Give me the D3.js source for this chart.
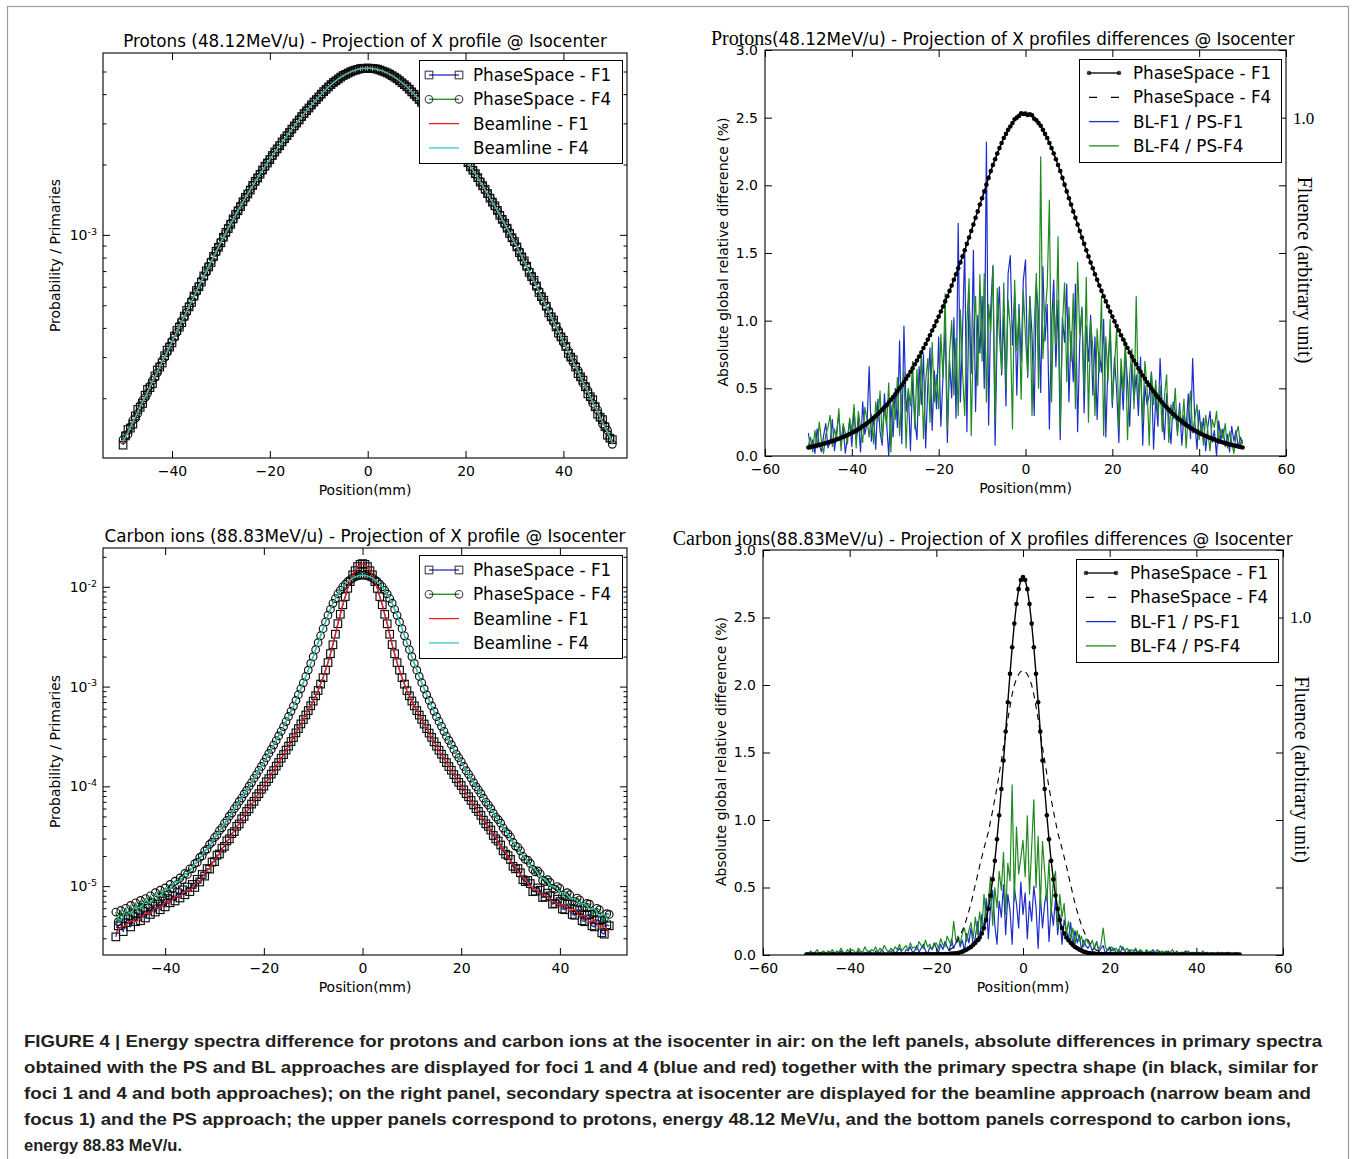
<!DOCTYPE html>
<html><head><meta charset="utf-8">
<script src="https://cdn.jsdelivr.net/npm/d3@7/dist/d3.min.js"></script>
<style>html,body{margin:0;padding:0;background:#fff;} svg{display:block;}</style>
</head><body>
<svg id="fig" width="1356" height="1159"></svg>
<script>
// ======================= DATA =======================
// bin centres (mm)
const positionsMm = [
-50,-49,-48,-47,-46,-45,-44,-43,-42,-41,-40,-39,-38,-37,-36,-35,-34,-33,-32,-31,
-30,-29,-28,-27,-26,-25,-24,-23,-22,-21,-20,-19,-18,-17,-16,-15,-14,-13,-12,-11,
-10,-9,-8,-7,-6,-5,-4,-3,-2,-1,0,1,2,3,4,5,6,7,8,9,10,
11,12,13,14,15,16,17,18,19,20,21,22,23,24,25,26,27,28,29,30,
31,32,33,34,35,36,37,38,39,40,41,42,43,44,45,46,47,48,49,50];
const positionsHalfMm = [
-50,-49.5,-49,-48.5,-48,-47.5,-47,-46.5,-46,-45.5,-45,-44.5,-44,-43.5,-43,-42.5,-42,-41.5,-41,-40.5,
-40,-39.5,-39,-38.5,-38,-37.5,-37,-36.5,-36,-35.5,-35,-34.5,-34,-33.5,-33,-32.5,-32,-31.5,-31,-30.5,
-30,-29.5,-29,-28.5,-28,-27.5,-27,-26.5,-26,-25.5,-25,-24.5,-24,-23.5,-23,-22.5,-22,-21.5,-21,-20.5,
-20,-19.5,-19,-18.5,-18,-17.5,-17,-16.5,-16,-15.5,-15,-14.5,-14,-13.5,-13,-12.5,-12,-11.5,-11,-10.5,
-10,-9.5,-9,-8.5,-8,-7.5,-7,-6.5,-6,-5.5,-5,-4.5,-4,-3.5,-3,-2.5,-2,-1.5,-1,-0.5,
0,
0.5,1,1.5,2,2.5,3,3.5,4,4.5,5,5.5,6,6.5,7,7.5,8,8.5,9,9.5,10,
10.5,11,11.5,12,12.5,13,13.5,14,14.5,15,15.5,16,16.5,17,17.5,18,18.5,19,19.5,20,
20.5,21,21.5,22,22.5,23,23.5,24,24.5,25,25.5,26,26.5,27,27.5,28,28.5,29,29.5,30,
30.5,31,31.5,32,32.5,33,33.5,34,34.5,35,35.5,36,36.5,37,37.5,38,38.5,39,39.5,40,
40.5,41,41.5,42,42.5,43,43.5,44,44.5,45,45.5,46,46.5,47,47.5,48,48.5,49,49.5,50];

// Protons 48.12 MeV/u, Probability / Primaries, in units of 1e-6
const PROTON_PROB_UNIT = 1e-6;
// PhaseSpace series: 0.5 mm bins (positionsHalfMm)
const protonPhaseSpaceF1 = [
126,138,147,149,155,168,179,183,190,206, 218,222,231,249,264,272,283,304,321,331,
345,369,390,403,421,449,475,492,514,547, 578,600,628,667,702,729,762,809,851,885,
925,977,1025,1064,1110,1170,1224,1268,1320,1386, 1447,1497,1555,1628,1695,1752,1816,1894,1967,2030,
2100,2185,2263,2332,2408,2498,2580,2656,2739,2836, 2926,3010,3102,3208,3306,3396,3490,3598,3700,3792,
3890,3999,4102,4196,4296,4396,4488,4564,4646,4731, 4808,4862,4922,4983,5034,5070,5108,5140,5162,5160,
5166,
5163,5155,5138,5114,5072,5024,4979,4930,4868,4798, 4729,4655,4570,4477,4390,4305,4200,4092,3994,3900,
3797,3688,3591,3500,3399,3294,3201,3114,3011,2914, 2830,2750,2660,2566,2490,2419,2337,2251,2178,2112,
2036,1955,1889,1828,1757,1683,1623,1567,1502,1435, 1380,1332,1273,1212,1165,1122,1068,1014,972,936,
888,840,805,774,734,691,663,639,604,567, 544,525,495,464,446,432,404,380,366,354,
333,311,300,292,272,255,247,239,224,209, 203,197,184,171,166,162,151,139,135,133];
const protonPhaseSpaceF4 = [
133,139,140,151,161,164,172,186,196,201, 210,226,238,245,257,275,290,299,313,334,
352,365,383,408,429,445,466,496,523,544, 570,604,636,662,693,734,771,804,842,889,
934,973,1016,1070,1120,1164,1213,1273,1330,1381, 1437,1503,1566,1623,1684,1757,1826,1889,1957,2036,
2110,2178,2252,2336,2417,2490,2568,2661,2749,2830, 2915,3014,3112,3201,3296,3399,3499,3593,3690,3796,
3899,3994,4093,4201,4304,4390,4479,4570,4654,4730, 4800,4868,4930,4980,5025,5072,5115,5140,5155,5168,
5172,
5168,5161,5138,5108,5072,5032,4979,4922,4866,4806, 4728,4646,4568,4486,4393,4296,4200,4101,3995,3891,
3796,3698,3593,3491,3400,3305,3203,3104,3015,2924, 2830,2741,2660,2577,2492,2409,2336,2262,2180,2102,
2035,1966,1890,1818,1757,1693,1624,1557,1503,1445, 1381,1322,1273,1222,1165,1112,1069,1024,973,926,
889,850,805,764,733,700,664,630,604,576, 545,516,495,473,446,423,407,389,366,346,
333,319,300,284,275,263,246,232,225,216, 202,190,185,178,165,155,152,146,135,127];
// Beamline series: 1 mm bins (positionsMm)
const protonBeamlineF1 = [
128,145,156,177,192,215,233,262,285,318, 347,388,424,472,517,575,631,699,766,848,
928,1022,1114,1220,1324,1443,1559,1691,1820,1963, 2104,2259,2411,2575,2743,2922,3106,3302,3493,3696,
3893,4099,4298,4484,4648,4805,4924,5031,5109,5160, 5168,
5156,5113,5027,4928,4801,4652,4480,4302,4095,3897, 3692,3497,3298,3110,2918,2747,2571,2415,2255,2108,
1959,1824,1687,1563,1439,1328,1216,1118,1018,932, 844,770,695,635,571,521,468,428,384,351,
314,289,258,237,211,195,173,160,141,131];
const protonBeamlineF4 = [
131,142,159,174,194,212,236,259,288,315, 350,385,427,469,520,572,634,696,769,845,
931,1019,1117,1217,1327,1440,1562,1688,1823,1960, 2107,2256,2414,2572,2746,2919,3109,3299,3496,3693,
3896,4096,4301,4481,4651,4802,4927,5028,5112,5157, 5171,
5157,5110,5030,4925,4804,4649,4483,4299,4098,3894, 3695,3494,3301,3107,2921,2744,2574,2412,2258,2105,
1962,1821,1690,1560,1442,1325,1219,1115,1021,929, 847,767,698,632,574,518,471,425,387,348,
317,286,261,234,214,192,176,157,144,129];

// Carbon ions 88.83 MeV/u, Probability / Primaries, in units of 1e-7
const CARBON_PROB_UNIT = 1e-7;
// PhaseSpace series: 0.5 mm bins (positionsHalfMm)
const carbonPhaseSpaceF1 = [
31,40,42,35,43,47,39,50,44,53, 45,56,48,60,52,63,55,66,58,71,
62,75,68,80,71,86,76,92,82,98, 88,104,97,117,110,131,126,150,148,174,
176,204,210,240,250,284,298,336,352,398, 420,472,500,560,596,664,708,788,845,935,
1005,1110,1196,1325,1440,1595,1735,1915,2085,2310, 2530,2810,3080,3435,3790,4225,4670,5195,5740,6425,
7150,8090,9130,10600,12290,14640,17400,21400,26280,33520, 42700,53100,66050,79900,96650,112800,131800,145100,159700,168100,
171000,
168000,159500,144900,131900,112700,96500,79850,66100,53050,42600, 33480,26350,21360,17360,14610,12320,10580,9100,8075,7170,
6410,5740,5180,4690,4210,3790,3420,3100,2795,2530, 2300,2100,1900,1730,1580,1450,1312,1195,1098,1020,
922,845,786,722,652,598,560,512,458,421, 397,365,322,298,283,258,226,209,202,185,
158,149,150,136,116,111,114,106,88,89, 96,91,77,78,85,80,66,67,74,70,
59,58,66,66,52,51,58,57,45,44, 51,52,40,39,46,45,34,33,41,40];
const carbonPhaseSpaceF4 = [
55,44,57,47,60,50,64,53,68,57, 72,60,75,65,80,69,86,74,91,79,
96,86,104,95,112,104,121,116,134,131, 149,150,168,173,194,201,225,235,262,276,
307,325,361,384,426,455,503,540,596,641, 707,763,841,911,1004,1091,1205,1312,1450,1585,
1745,1925,2135,2347,2595,2880,3205,3565,3975,4460, 5015,5650,6375,7262,8285,9500,10905,12625,14625,17075,
19950,23440,27540,32350,38000,44410,51900,59580,68400,76300, 85100,92250,100000,106200,112700,117500,122500,125600,128800,130400,
130900,
130350,128700,125550,122600,117450,112600,106250,100100,92200,85000, 76350,68500,59520,51800,44450,38100,32300,27500,23460,19980,
17060,14600,12640,10930,9490,8260,7275,6400,5645,4990, 4470,4000,3560,3180,2890,2620,2345,2110,1936,1765,
1584,1435,1322,1210,1090,992,920,845,762,696, 650,598,538,493,464,428,382,351,334,309,
274,252,245,226,199,185,182,169,147,139, 142,133,114,111,116,109,95,93,99,95,
80,80,86,82,70,70,76,73,61,62, 67,66,53,54,60,58,46,46,53,52];
// Beamline series: 1 mm bins (positionsMm)
const carbonBeamlineF1 = [
34,39,40,45,44,47,54,53,61,60, 70,68,79,78,90,89,105,112,136,150,
183,210,258,298,362,423,510,600,719,848, 1015,1198,1448,1736,2094,2536,3094,3796,4684,5746,
7160,9120,12300,17380,26300,42660,66070,96600,131800,159600, 170800,
159400,131700,96700,66000,42700,26250,17400,12280,9140,7150, 5760,4670,3810,3080,2550,2080,1750,1440,1210,1005,
856,710,608,502,432,354,306,250,218,176, 156,129,118,99,95,84,83,73,69,64,
65,56,58,50,51,43,46,39,40,34];
const carbonBeamlineF4 = [
50,45,57,53,63,60,72,68,81,80, 93,94,110,112,132,140,168,186,225,254,
307,352,428,494,598,698,842,995,1205,1440, 1755,2122,2605,3195,3985,5005,6385,8275,10915,14615,
19940,27550,37990,51910,68390,85110,99990,112710,122490,128810, 130800,
128900,122400,112800,99900,85200,68300,52000,37900,27600,19920, 14640,10890,8300,6360,5030,3960,3220,2580,2145,1735,
1455,1190,1008,830,710,586,505,416,363,298, 262,216,194,160,148,124,118,101,99,86,
86,76,75,66,67,59,59,50,52,44];

// Right panels (0.5 mm bins): fluence (arbitrary unit) in units of 1e-3, differences (%) in units of 1e-2
const FLUENCE_UNIT = 1e-3;
const DIFF_UNIT = 1e-2;
const protonFluencePSF1 = [
25,27,28,30,31,33,34,36,38,40, 42,44,46,49,51,54,56,59,62,65,
68,72,75,79,83,88,92,97,102,107, 112,118,124,131,137,144,150,158,166,174,
182,191,200,209,218,228,238,249,259,271, 282,294,306,319,331,344,357,371,384,398,
412,427,442,457,472,488,504,521,537,555, 572,590,608,627,646,665,684,704,723,743,
762,782,802,822,842,860,877,894,910,925, 940,952,964,974,984,995,1000,1005,1013,1011,
1012,
1008,1010,1007,997,992,984,976,964,952,940, 925,910,894,877,860,842,822,802,782,762,
743,723,704,684,665,646,627,608,590,572, 555,537,521,504,488,472,457,442,427,412,
398,384,371,357,344,331,319,306,294,282, 271,259,249,238,228,218,209,200,191,182,
174,166,158,150,144,137,131,124,118,112, 107,102,97,92,88,83,79,75,72,68,
65,62,59,56,54,51,49,46,44,42, 40,38,36,34,33,31,30,28,27,25];
const protonFluencePSF4 = protonFluencePSF1; // PS-F4 profile coincides with PS-F1 at this scale
const protonDiffF1 = [
17,5,12,2,20,8,3,15,24,6, 10,27,4,18,31,9,22,2,14,26,
7,35,12,28,3,40,16,24,66,11, 30,5,42,18,8,46,25,0,38,14,
50,21,85,9,96,33,48,4,57,27, 12,66,38,75,6,52,80,19,63,35,
88,22,59,95,10,71,43,102,28,172, 40,92,153,18,120,61,152,33,104,76,
118,50,232,23,110,140,8,96,125,60, 104,37,135,148,82,120,45,112,70,130,
145,
58,118,90,30,126,105,47,140,85,112, 20,98,130,66,115,12,102,84,127,40,
92,55,127,18,85,110,32,96,70,104, 45,88,27,76,62,101,14,70,92,36,
73,48,10,65,34,78,55,22,68,41, 60,30,73,8,52,38,45,62,5,44,
22,72,35,12,46,28,9,40,33,18, 39,8,30,21,46,13,72,25,5,34,
15,28,4,22,33,10,19,0,26,12, 20,7,16,3,22,11,19,6,14,9];
const protonDiffF4 = [
8,14,3,19,6,25,11,2,16,21, 30,7,20,13,35,4,24,17,9,28,
18,38,6,33,21,10,36,27,14,31, 9,40,26,48,12,35,22,54,3,43,
27,58,15,44,62,6,50,37,70,20, 64,30,78,13,55,72,25,84,40,60,
35,90,58,120,20,76,100,45,87,30, 108,62,30,98,131,15,90,118,52,134,
70,135,40,112,92,141,25,124,88,63, 128,50,115,95,20,130,78,108,42,122,
88,
60,118,30,95,135,50,221,72,104,125, 189,40,115,82,162,20,97,128,55,110,
70,120,35,143,90,108,48,132,25,100, 80,30,94,62,118,15,88,55,101,40,
66,95,20,72,48,86,12,60,79,35, 118,42,65,25,70,50,8,62,38,56,
30,52,18,44,60,10,38,27,50,15, 35,22,42,6,31,48,17,28,38,12,
25,8,30,18,4,27,21,33,9,20, 13,24,6,18,10,2,16,22,8,12];

const carbonFluencePSF1 = [
1,1,1,1,1,1,1,1,1,1, 1,1,1,1,1,1,1,1,1,1,
1,1,1,1,1,1,1,1,1,1, 1,1,1,1,1,1,1,1,1,1,
2,2,2,2,2,2,2,2,2,2, 2,2,2,2,2,2,2,2,2,2,
2,2,2,2,3,3,3,4,4,5, 6,8,10,13,16,20,24,30,36,44,
52,64,80,104,137,176,224,279,343,414, 492,576,662,749,833,912,982,1040,1084,1111,
1120,
1111,1084,1040,982,912,833,749,662,576,492, 414,343,279,224,176,137,104,80,64,52,
44,36,30,24,20,16,13,10,8,6, 5,4,4,3,3,3,2,2,2,2,
2,2,2,2,2,2,2,2,2,2, 2,2,2,2,2,2,2,2,2,2,
1,1,1,1,1,1,1,1,1,1, 1,1,1,1,1,1,1,1,1,1,
1,1,1,1,1,1,1,1,1,1, 1,1,1,1,1,1,1,1,1,1];
const carbonFluencePSF4 = [
1,1,1,1,1,1,1,1,1,1, 1,1,1,1,1,1,1,1,1,1,
1,1,1,1,1,1,1,1,1,1, 1,1,1,1,1,1,1,1,1,1,
2,2,2,2,2,2,2,2,2,2, 2,2,2,2,2,2,2,2,2,2,
3,4,5,6,8,11,14,19,24,34, 44,58,72,88,108,130,152,180,208,236,
264,290,316,340,364,396,428,462,496,536, 576,616,656,698,736,772,800,818,832,840,
844,
840,832,818,800,772,736,698,656,616,576, 536,496,462,428,396,364,340,316,290,264,
236,208,180,152,130,108,88,72,58,44, 34,24,19,14,11,8,6,5,4,3,
2,2,2,2,2,2,2,2,2,2, 2,2,2,2,2,2,2,2,2,2,
1,1,1,1,1,1,1,1,1,1, 1,1,1,1,1,1,1,1,1,1,
1,1,1,1,1,1,1,1,1,1, 1,1,1,1,1,1,1,1,1,1];
const carbonDiffF1 = [
0,1,0,2,1,0,1,2,0,1, 1,0,2,1,0,1,3,1,0,2,
1,2,0,1,3,1,0,2,1,3, 2,0,3,1,2,4,1,0,3,2,
4,1,3,5,2,0,4,3,6,2, 3,7,2,5,8,3,1,6,4,9,
5,2,8,4,10,6,3,12,5,9, 14,6,11,3,16,9,20,7,13,25,
10,30,18,42,12,35,48,22,8,40, 28,52,15,45,33,8,50,38,20,54,
30,
46,12,40,25,51,36,5,44,20,38, 48,10,35,22,42,15,30,8,26,18,
12,24,6,18,9,15,4,11,7,5, 8,3,6,10,2,5,7,1,4,6,
3,5,1,4,2,6,3,1,4,2, 2,4,1,3,2,0,3,1,2,4,
1,2,3,0,2,1,3,1,0,2, 1,0,2,1,3,1,0,2,1,0,
2,1,0,1,2,0,1,1,0,2, 1,0,1,2,0,1,0,1,1,0];
const carbonDiffF4 = [
2,1,3,1,2,4,1,2,3,1, 3,2,4,1,3,2,5,2,1,4,
2,4,3,1,5,3,2,6,3,2, 4,3,6,2,5,3,7,4,2,5,
3,6,4,8,3,5,7,4,9,5, 6,4,10,7,5,11,6,8,4,7,
9,5,12,8,6,14,10,7,25,11, 13,8,16,20,10,18,24,12,28,15,
32,18,45,25,40,58,22,50,35,62, 48,76,30,68,55,126,40,95,60,72,
85,
58,103,45,80,115,50,88,35,84,62, 40,70,30,55,62,20,45,28,38,15,
25,12,20,8,18,10,14,6,12,9, 7,11,5,9,4,8,20,6,3,5,
6,3,5,2,7,4,3,5,2,4, 3,5,2,4,3,1,4,2,3,2,
2,4,1,3,2,3,1,2,4,1, 3,1,2,2,1,3,2,0,2,1,
2,1,3,1,2,0,2,1,1,2, 1,2,0,1,2,1,0,2,1,1];

const xTicksLeftPanels = [-40,-20,0,20,40];
const xTicksRightPanels = [-60,-40,-20,0,20,40,60];
const yTicksDiff = [0,0.5,1,1.5,2,2.5,3];
const yTicksFluence = [0,0.2,0.4,0.6,0.8,1.0,1.2];
const legendLeftLabels = ["PhaseSpace - F1","PhaseSpace - F4","Beamline - F1","Beamline - F4"];
const legendRightLabels = ["PhaseSpace - F1","PhaseSpace - F4","BL-F1 / PS-F1","BL-F4 / PS-F4"];
const captionLines = [
"FIGURE 4 | Energy spectra difference for protons and carbon ions at the isocenter in air: on the left panels, absolute differences in primary spectra",
"obtained with the PS and BL approaches are displayed for foci 1 and 4 (blue and red) together with the primary spectra shape (in black, similar for",
"foci 1 and 4 and both approaches); on the right panel, secondary spectra at isocenter are displayed for the beamline approach (narrow beam and",
"focus 1) and the PS approach; the upper panels correspond to protons, energy 48.12 MeV/u, and the bottom panels correspond to carbon ions,",
"energy 88.83 MeV/u."];

// ======================= DRAWING =======================
const svg = d3.select("#fig");
const FONT = "'DejaVu Sans','Bitstream Vera Sans',Verdana,sans-serif";
const SERIF = "'Liberation Serif','Times New Roman','DejaVu Serif',serif";
const COL = {blue:"#1d2ccc", green:"#1f8a1f", red:"#e8231c", cyan:"#33c6bf", black:"#000"};

svg.append("rect").attr("width",1356).attr("height",1159).attr("fill","#fff");
svg.append("rect").attr("x",7.5).attr("y",6.5).attr("width",1341).attr("height",1220)
  .attr("fill","none").attr("stroke","#9c9c9c").attr("stroke-width",1.2);

const fmtMinus = v => (v < 0 ? "\u2212" : "") + Math.abs(v);

function mkAxis(g, gen, scale, vals, size, fmt, pad, tx, ty) {
  const a = gen(scale).tickValues(vals).tickSizeInner(-size).tickSizeOuter(0)
    .tickPadding(pad).tickFormat(fmt || (() => ""));
  const gg = g.append("g").attr("transform", `translate(${tx},${ty})`).call(a);
  gg.select(".domain").remove();
  gg.selectAll(".tick line").attr("stroke", "#000").attr("stroke-width", 1);
  gg.selectAll(".tick text").attr("font-family", FONT).attr("font-size", 14).attr("fill", "#000");
  return gg;
}

function drawMarkers(sel, pts, type) {
  const ms = sel.append("g").attr("fill", "none").attr("stroke", "#0d0d0d").attr("stroke-width", 1.15);
  if (type === "square") {
    ms.selectAll("rect").data(pts).join("rect")
      .attr("x", d => d[0] - 3.8).attr("y", d => d[1] - 3.8).attr("width", 7.6).attr("height", 7.6);
  } else if (type === "circle") {
    ms.selectAll("circle").data(pts).join("circle")
      .attr("cx", d => d[0]).attr("cy", d => d[1]).attr("r", 3.8);
  } else if (type === "dot") {
    ms.attr("stroke", "none").attr("fill", "#000");
    ms.selectAll("circle").data(pts).join("circle")
      .attr("cx", d => d[0]).attr("cy", d => d[1]).attr("r", 2.3);
  }
}

function legend(o) {
  const g = svg.append("g");
  g.append("rect").attr("x", o.x + 0.5).attr("y", o.y + 0.5).attr("width", o.w).attr("height", o.h)
    .attr("fill", "#fff").attr("stroke", "#000").attr("stroke-width", 1);
  o.rows.forEach((r, i) => {
    const cy = o.y + o.first + i * o.dy;
    const x0 = o.x + 10, x1 = o.x + 40;
    g.append("line").attr("x1", x0).attr("x2", x1).attr("y1", cy).attr("y2", cy)
      .attr("stroke", r.color).attr("stroke-width", 1.3).attr("stroke-dasharray", r.dash || null);
    if (r.marker) {
      const hm = g.append("g").attr("opacity", 0.75);
      drawMarkers(hm, [[x0, cy], [x1, cy]], r.marker);
    }
    g.append("text").attr("x", o.x + 54).attr("y", cy).attr("dy", "0.36em")
      .attr("font-family", FONT).attr("font-size", 16.8).attr("fill", "#000").text(r.label);
  });
}

function frame(g, o) {
  g.append("rect").attr("x", o.L).attr("y", o.T).attr("width", o.R - o.L).attr("height", o.B - o.T)
    .attr("fill", "none").attr("stroke", "#000").attr("stroke-width", 1.1);
}

function addClip(o) {
  const id = "clip-" + o.id;
  svg.append("clipPath").attr("id", id).append("rect")
    .attr("x", o.L).attr("y", o.T).attr("width", o.R - o.L).attr("height", o.B - o.T);
  return `url(#${id})`;
}

function logPanel(o) {
  const g = svg.append("g");
  const x = d3.scaleLinear().domain(o.xDom).range([o.L, o.R]);
  const y = d3.scaleLog().domain(o.yDom).range([o.B, o.T]);
  const plot = g.append("g").attr("clip-path", addClip(o));
  o.series.forEach(s => {
    const pts = s.values.map((v, i) => [x(s.xs[i]), y(v * o.unit)]);
    plot.append("path").attr("d", d3.line()(pts)).attr("fill", "none")
      .attr("stroke", s.color).attr("stroke-width", 1.3).attr("stroke-linejoin", "round");
    if (s.marker) drawMarkers(plot, pts, s.marker);
  });
  frame(g, o);
  const [lo, hi] = o.yDom;
  const minors = [];
  for (let e = Math.floor(Math.log10(lo)); e <= Math.ceil(Math.log10(hi)); e++)
    for (let m = 2; m <= 9; m++) { const v = m * Math.pow(10, e); if (v > lo && v < hi) minors.push(v); }
  mkAxis(g, d3.axisBottom, x, xTicksLeftPanels, 7, fmtMinus, 8, 0, o.B);
  mkAxis(g, d3.axisTop, x, xTicksLeftPanels, 7, null, 8, 0, o.T);
  const la = mkAxis(g, d3.axisLeft, y, o.yMajors, 7, null, 6, o.L, 0);
  la.selectAll(".tick text").each(function (d) {
    const t = d3.select(this);
    const e = Math.round(Math.log10(d));
    t.append("tspan").text("10");
    t.append("tspan").attr("dy", "-0.55em").attr("font-size", 9.5).text("-" + Math.abs(e));
  });
  mkAxis(g, d3.axisLeft, y, minors, 3.5, null, 6, o.L, 0);
  mkAxis(g, d3.axisRight, y, o.yMajors, 7, null, 6, o.R, 0);
  mkAxis(g, d3.axisRight, y, minors, 3.5, null, 6, o.R, 0);
  g.append("text").attr("x", (o.L + o.R) / 2).attr("y", o.T - 6).attr("text-anchor", "middle")
    .attr("font-family", FONT).attr("font-size", 16.8).text(o.title);
  g.append("text").attr("x", (o.L + o.R) / 2).attr("y", o.B + 37).attr("text-anchor", "middle")
    .attr("font-family", FONT).attr("font-size", 14).text("Position(mm)");
  g.append("text").attr("transform", `translate(${o.L - 43},${(o.T + o.B) / 2}) rotate(-90)`)
    .attr("text-anchor", "middle").attr("font-family", FONT).attr("font-size", 14).text("Probability / Primaries");
  legend({x: o.L + 316, y: o.T + 7, w: 203, h: 103, first: 15, dy: 24.3, rows: [
    {label: legendLeftLabels[0], color: COL.blue, marker: "square"},
    {label: legendLeftLabels[1], color: COL.green, marker: "circle"},
    {label: legendLeftLabels[2], color: COL.red},
    {label: legendLeftLabels[3], color: COL.cyan}]});
}

function diffPanel(o) {
  const g = svg.append("g");
  const x = d3.scaleLinear().domain([-60, 60]).range([o.L, o.R]);
  const yL = d3.scaleLinear().domain([0, 3]).range([o.B, o.T]);
  const yR = d3.scaleLinear().domain([0, 1.2]).range([o.B, o.T]);
  const plot = g.append("g").attr("clip-path", addClip(o));
  const pts = (vals, sc, unit) => vals.map((v, i) => [x(positionsHalfMm[i]), sc(v * unit)]);
  plot.append("path").attr("d", d3.line()(pts(o.diffF1, yL, DIFF_UNIT))).attr("fill", "none")
    .attr("stroke", COL.blue).attr("stroke-width", 1.2).attr("stroke-linejoin", "round");
  plot.append("path").attr("d", d3.line()(pts(o.diffF4, yL, DIFF_UNIT))).attr("fill", "none")
    .attr("stroke", COL.green).attr("stroke-width", 1.2).attr("stroke-linejoin", "round");
  const f1 = pts(o.fluF1, yR, FLUENCE_UNIT);
  plot.append("path").attr("d", d3.line()(f1)).attr("fill", "none").attr("stroke", "#000").attr("stroke-width", 1.4);
  drawMarkers(plot, f1, "dot");
  plot.append("path").attr("d", d3.line()(pts(o.fluF4, yR, FLUENCE_UNIT))).attr("fill", "none")
    .attr("stroke", "#000").attr("stroke-width", 1.1).attr("stroke-dasharray", "6,5");
  frame(g, o);
  mkAxis(g, d3.axisBottom, x, xTicksRightPanels, 7, fmtMinus, 8, 0, o.B);
  mkAxis(g, d3.axisTop, x, xTicksRightPanels, 7, null, 8, 0, o.T);
  mkAxis(g, d3.axisLeft, yL, yTicksDiff, 7, d3.format(".1f"), 7, o.L, 0);
  const ra = mkAxis(g, d3.axisRight, yR, yTicksFluence, 7, d => (Math.abs(d - 1) < 1e-9 ? "1.0" : ""), 7, o.R, 0);
  ra.selectAll(".tick text").attr("font-family", SERIF).attr("font-size", 17);
  // title: first word rendered in serif, as in the figure
  g.append("text").attr("x", o.L + 7).attr("y", o.T - 5).attr("text-anchor", "end")
    .attr("font-family", SERIF).attr("font-size", 20).text(o.titleA);
  g.append("text").attr("x", o.L + 7).attr("y", o.T - 5)
    .attr("font-family", FONT).attr("font-size", 16.8).text(o.titleB);
  g.append("text").attr("x", (o.L + o.R) / 2).attr("y", o.B + 37).attr("text-anchor", "middle")
    .attr("font-family", FONT).attr("font-size", 14).text("Position(mm)");
  g.append("text").attr("transform", `translate(${o.L - 37},${(o.T + o.B) / 2 - 1}) rotate(-90)`)
    .attr("text-anchor", "middle").attr("font-family", FONT).attr("font-size", 14)
    .text("Absolute global relative difference (%)");
  g.append("text").attr("transform", `translate(${o.R + 12},${(o.T + o.B) / 2 + 17}) rotate(90)`)
    .attr("text-anchor", "middle").attr("font-family", SERIF).attr("font-size", 20)
    .text("Fluence (arbitrary unit)");
  legend({x: o.R - 207, y: o.T + 9, w: 202, h: 103, first: 14, dy: 24.3, rows: [
    {label: legendRightLabels[0], color: "#000", marker: "dot"},
    {label: legendRightLabels[1], color: "#000", dash: "8,14"},
    {label: legendRightLabels[2], color: COL.blue},
    {label: legendRightLabels[3], color: COL.green}]});
}

logPanel({id: "tl", L: 103, R: 627, T: 53, B: 458, xDom: [-54.1, 53.0], yDom: [1.11e-4, 6.0e-3],
  yMajors: [1e-3], unit: PROTON_PROB_UNIT,
  title: "Protons (48.12MeV/u) - Projection of X profile @ Isocenter",
  series: [
    {values: protonPhaseSpaceF1, xs: positionsHalfMm, color: COL.blue, marker: "square"},
    {values: protonPhaseSpaceF4, xs: positionsHalfMm, color: COL.green, marker: "circle"},
    {values: protonBeamlineF1, xs: positionsMm, color: COL.red},
    {values: protonBeamlineF4, xs: positionsMm, color: COL.cyan}]});

logPanel({id: "bl", L: 103, R: 627, T: 548, B: 955, xDom: [-52.6, 53.6], yDom: [2.04e-6, 2.45e-2],
  yMajors: [1e-2, 1e-3, 1e-4, 1e-5], unit: CARBON_PROB_UNIT,
  title: "Carbon ions (88.83MeV/u) - Projection of X profile @ Isocenter",
  series: [
    {values: carbonPhaseSpaceF1, xs: positionsHalfMm, color: COL.blue, marker: "square"},
    {values: carbonPhaseSpaceF4, xs: positionsHalfMm, color: COL.green, marker: "circle"},
    {values: carbonBeamlineF1, xs: positionsMm, color: COL.red},
    {values: carbonBeamlineF4, xs: positionsMm, color: COL.cyan}]});

diffPanel({id: "tr", L: 765, R: 1286, T: 50, B: 456,
  titleA: "Protons", titleB: "(48.12MeV/u) - Projection of X profiles differences @ Isocenter",
  diffF1: protonDiffF1, diffF4: protonDiffF4, fluF1: protonFluencePSF1, fluF4: protonFluencePSF4});

diffPanel({id: "br", L: 763, R: 1283, T: 550, B: 955,
  titleA: "Carbon ions", titleB: "(88.83MeV/u) - Projection of X profiles differences @ Isocenter",
  diffF1: carbonDiffF1, diffF4: carbonDiffF4, fluF1: carbonFluencePSF1, fluF4: carbonFluencePSF4});

// caption
const capWidths = [1298, 1294, 1287, 1267, 158];
captionLines.forEach((t, i) => {
  svg.append("text").attr("x", 24).attr("y", 1047 + i * 26)
    .attr("font-family", "'Liberation Sans Narrow','Liberation Sans',Arial,sans-serif")
    .attr("font-weight", "bold").attr("font-size", 17).attr("fill", "#231f20")
    .attr("textLength", capWidths[i]).attr("lengthAdjust", "spacingAndGlyphs").text(t);
});
</script>
</body></html>
